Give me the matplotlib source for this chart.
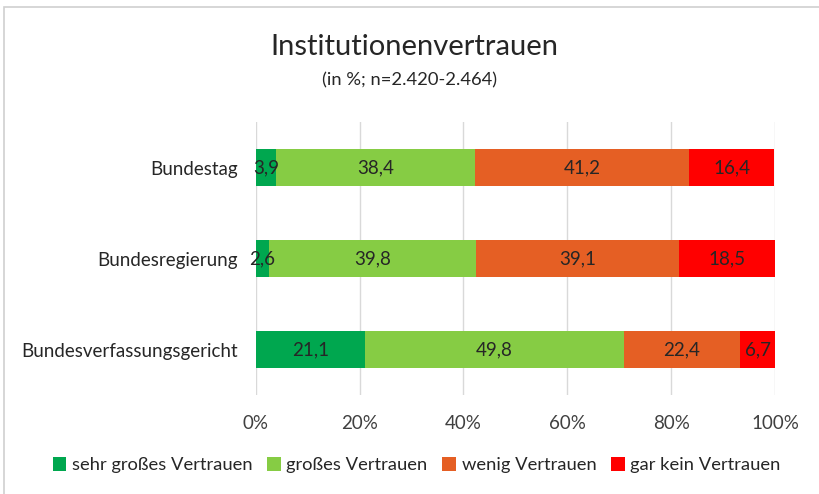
import numpy as np
import matplotlib
matplotlib.use('Agg')
from matplotlib import pyplot as plt
from matplotlib.patches import Rectangle

plt.rcParams['font.family'] = ['Lato', 'DejaVu Sans']

institutions = ['Bundestag', 'Bundesregierung', 'Bundesverfassungsgericht']
series_names = ['sehr großes Vertrauen', 'großes Vertrauen', 'wenig Vertrauen', 'gar kein Vertrauen']
sehr_gross = [3.9, 2.6, 21.1]
gross = [38.4, 39.8, 49.8]
wenig = [41.2, 39.1, 22.4]
gar_kein = [16.4, 18.5, 6.7]
colors = ['#00A74F', '#86CC44', '#E55F24', '#FF0000']

values = [sehr_gross, gross, wenig, gar_kein]

fig = plt.figure(figsize=(8.2, 4.94), dpi=100)
ax = fig.add_axes([0.312, 0.200, 0.633, 0.553])

ypos = np.arange(len(institutions))
left = np.zeros(len(institutions))
for name, vals, col in zip(series_names, values, colors):
    vals = np.array(vals)
    ax.barh(ypos, vals, left=left, height=0.4, color=col, label=name, zorder=2)
    for y, l, v in zip(ypos, left, vals):
        ax.text(l + v / 2, y, f'{v:.1f}'.replace('.', ','), ha='center', va='center',
                fontsize=13.5, color='#262626', zorder=3)
    left += vals

ax.set_xlim(0, 100)
ax.set_ylim(2.5, -0.5)
ax.set_yticks(ypos)
ax.set_yticklabels(institutions, fontsize=13.5, color='#262626')
ax.set_xticks(np.arange(0, 101, 20))
ax.set_xticklabels([f'{t}%' for t in range(0, 101, 20)], fontsize=13.5, color='#404040')
ax.tick_params(length=0, pad=14)
ax.tick_params(axis='y', pad=13)
ax.grid(axis='x', color='#D9D9D9', linewidth=1, zorder=0)
for s in ax.spines.values():
    s.set_visible(False)

fig.text(0.505, 0.905, 'Institutionenvertrauen', ha='center', va='center', fontsize=21, color='#262626')
fig.text(0.5, 0.838, '(in %; n=2.420-2.464)', ha='center', va='center', fontsize=13.2, color='#262626')

handles, labels = ax.get_legend_handles_labels()
fig.legend(handles, labels, loc='center', bbox_to_anchor=(0.508, 0.058), ncol=4, frameon=False,
           fontsize=13.2, handlelength=0.75, handleheight=0.75, handletextpad=0.3, columnspacing=0.8,
           labelcolor='#262626')

fig.patches.append(Rectangle((4 / 820, -0.1), 1.2, 1 - 7 / 494 + 0.1, transform=fig.transFigure,
                             fill=False, edgecolor='#D0D0D0', linewidth=1.2))

fig.savefig('out.png', dpi=100)
